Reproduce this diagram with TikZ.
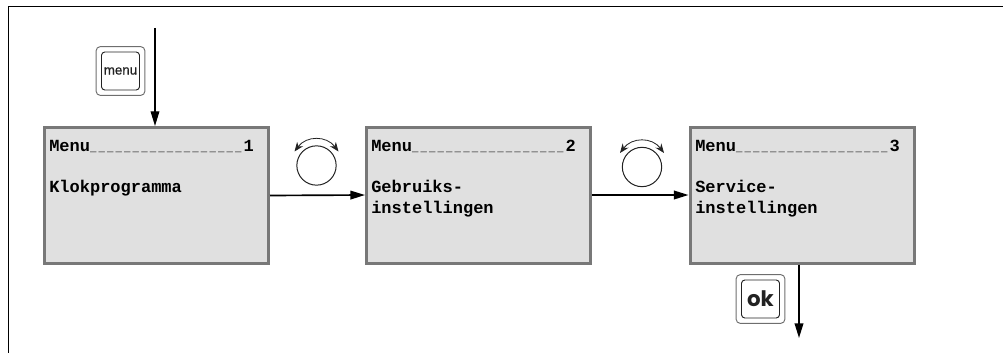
\documentclass[tikz,border=0pt]{standalone}
\usepackage{fontspec}
\setmainfont{Liberation Sans}
\setmonofont{Liberation Mono}
\newfontfamily\keyfont[FakeBold=0.6]{Liberation Sans}
\newfontfamily\okfont{Poppins}
\usetikzlibrary{arrows.meta}
\definecolor{lcdfill}{HTML}{E0E0E0}
\definecolor{lcdedge}{HTML}{787878}
\definecolor{keyedge}{HTML}{6E6E6E}
\definecolor{ink}{HTML}{222222}
\newcommand{\dsh}{\_\kern1.6pt}
\newcommand{\dashrun}{{\fontsize{8pt}{15pt}\selectfont \dsh\dsh\dsh\dsh\dsh\dsh\dsh\dsh\dsh\dsh\dsh\dsh\dsh\dsh\dsh\dsh\dsh\dsh}}
\tikzset{
  lcd/.style={draw=lcdedge,fill=lcdfill,line width=2.25pt,minimum width=168pt,minimum height=102pt,inner sep=0pt},
  lcdtext/.style={anchor=north west,inner sep=0pt,align=left,font=\fontsize{12.75pt}{15.6pt}\selectfont\ttfamily\bfseries},
  flow/.style={draw=black,line width=1.25pt,-{Triangle[length=11pt,width=6.5pt]}},
  knob/.style={circle,draw=ink,line width=.75pt,minimum size=29.5pt,inner sep=0pt},
  swing/.style={draw=ink,line width=.6pt,{Stealth[length=7pt,width=5.5pt]}-{Stealth[length=7pt,width=5.5pt]}},
  keyouter/.style={draw=keyedge,line width=.7pt,rounded corners=3pt,minimum size=36.5pt,inner sep=0pt},
  keyinner/.style={draw=ink,line width=.7pt,rounded corners=2.5pt,minimum size=28.5pt,inner sep=0pt},
}
\begin{document}
\begin{tikzpicture}[x=0.75pt,y=-0.75pt]
\useasboundingbox (0,0) rectangle (1003,353);
\draw[black,line width=.75pt] (8,353) -- (8,7) -- (1003,7);

\node[lcd] (b1) at (156.5,195.5) {};
\node[lcd] (b2) at (478.5,195) {};
\node[lcd] (b3) at (802,195) {};

\node[lcdtext] (t1) at (49,140) {Menu\dashrun 1\\[15pt]Klokprogramma};
\node[lcdtext] (t2) at (371,140) {Menu\dashrun 2\\[15pt]Gebruiks-\\instellingen};
\node[lcdtext] (t3) at (695,140) {Menu\dashrun 3\\[15pt]Service-\\instellingen};

\node[knob] (k1) at (316.5,165.5) {};
\node[knob] (k2) at (642,167) {};
\draw[swing] ([shift={(-22,-14)}]k1.center) .. controls ([shift={(-10,-30)}]k1.center) and ([shift={(10,-30)}]k1.center) .. ([shift={(22,-14)}]k1.center);
\draw[swing] ([shift={(-22,-14)}]k2.center) .. controls ([shift={(-10,-30)}]k2.center) and ([shift={(10,-30)}]k2.center) .. ([shift={(22,-14)}]k2.center);

\node[keyouter] (menuout) at (120.5,71) {};
\node[keyinner,font=\keyfont\fontsize{10pt}{12pt}\selectfont,text=ink] (menukey) at (120.5,71) {menu};
\node[keyouter] (okout) at (760.5,299) {};
\node[keyinner,font=\okfont\fontsize{16pt}{19pt}\selectfont\bfseries,text=ink] (okkey) at (760.5,299) {ok};

\coordinate (start) at (155,28);
\coordinate (finish) at (799,338);
\draw[flow,line width=.9pt] (start) -- (start |- b1.north);
\draw[flow] (b1.east) -- (b2.west);
\draw[flow] (b2.east) -- (b3.west);
\draw[flow] (finish |- b3.south) -- (finish);
\end{tikzpicture}
\end{document}
